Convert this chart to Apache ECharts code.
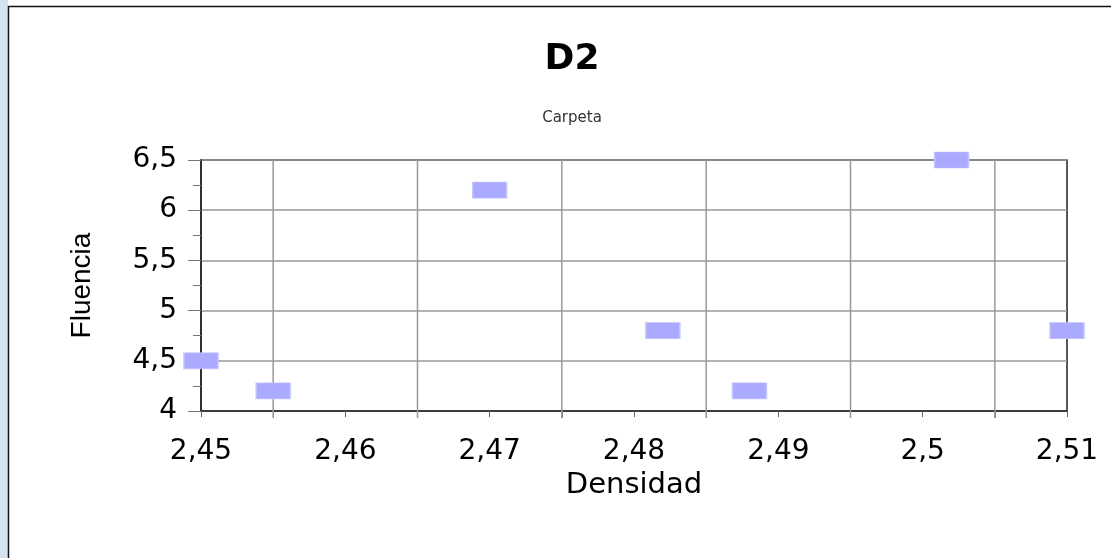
<!DOCTYPE html>
<html>
<head>
<meta charset="utf-8">
<title>D2</title>
<script src="https://cdn.jsdelivr.net/npm/echarts@6/dist/echarts.min.js"></script>
<style>
  html, body { margin: 0; padding: 0; background: #fff; }
  #chart { width: 1111px; height: 558px; }
</style>
</head>
<body>
<div id="chart"></div>
<script>
// puntos: densidad (x) y fluencia (y)
var densidad = [2.45, 2.455, 2.47, 2.482, 2.488, 2.502, 2.51]
var fluencia = [4.5, 4.2, 6.2, 4.8, 4.2, 6.5, 4.8]
// lineas verticales de la rejilla (entre etiquetas)
var gridX = [2.455, 2.465, 2.475, 2.485, 2.495, 2.505]

var wideFont = '"DejaVu Sans", Verdana, sans-serif'
var armFont = '"Liberation Sans", Arial, sans-serif'
var comma = function (v) {
  return String(+v.toFixed(3)).replace('.', ',')
}

var chart = echarts.init(document.getElementById('chart'))
chart.setOption({
  backgroundColor: '#fff',
  animation: false,
  graphic: [
    { type: 'rect', shape: { x: 0, y: 0, width: 8, height: 558 }, style: { fill: '#d5e3f1' }, silent: true },
    { type: 'line', shape: { x1: 8.5, y1: 6, x2: 8.5, y2: 558 }, style: { stroke: '#111', lineWidth: 1.5 }, silent: true },
    { type: 'line', shape: { x1: 8, y1: 6.5, x2: 1111, y2: 6.5 }, style: { stroke: '#111', lineWidth: 1.5 }, silent: true }
  ],
  title: {
    text: 'D2',
    subtext: 'Carpeta',
    left: 567,
    textAlign: 'center',
    top: 37,
    itemGap: 33,
    textStyle: { fontFamily: wideFont, fontSize: 36, fontWeight: 'bold', color: '#000' },
    subtextStyle: { fontFamily: wideFont, fontSize: 15, color: '#333' }
  },
  grid: {
    left: 201,
    right: 44,
    top: 160,
    bottom: 147,
    show: true,
    borderColor: '#222',
    borderWidth: 1.5
  },
  xAxis: {
    type: 'value',
    min: 2.45,
    max: 2.51,
    interval: 0.01,
    name: 'Densidad',
    nameLocation: 'middle',
    nameGap: 60,
    nameTextStyle: { fontFamily: wideFont, fontSize: 29, color: '#000' },
    axisLine: { lineStyle: { color: '#222', width: 1.5 } },
    axisTick: { length: 6, lineStyle: { color: '#666' } },
    minorTick: { show: true, splitNumber: 2, length: 7, lineStyle: { color: '#666' } },
    splitLine: { show: false },
    axisLabel: {
      margin: 27,
      fontFamily: wideFont,
      fontSize: 28,
      color: '#000',
      formatter: comma
    }
  },
  yAxis: {
    type: 'value',
    min: 4,
    max: 6.5,
    interval: 0.5,
    name: 'Fluencia',
    nameLocation: 'middle',
    nameGap: 105,
    nameTextStyle: { fontFamily: armFont, fontSize: 28, color: '#000' },
    axisLine: { show: true, lineStyle: { color: '#222', width: 1.5 } },
    axisTick: { show: true, length: 13, lineStyle: { color: '#777' } },
    minorTick: { show: true, splitNumber: 2, length: 8, lineStyle: { color: '#777' } },
    splitLine: { show: true, lineStyle: { color: '#999', width: 1.5 } },
    axisLabel: {
      margin: 24,
      fontFamily: wideFont,
      fontSize: 28,
      color: '#000',
      formatter: comma
    }
  },
  series: [{
    type: 'custom',
    silent: true,
    z: 1,
    data: gridX,
    renderItem: function (params, api) {
      var x = api.value(0)
      var p1 = api.coord([x, 6.5])
      var p2 = api.coord([x, 4])
      return {
        type: 'line',
        shape: { x1: p1[0], y1: p1[1], x2: p2[0], y2: p2[1] + 7 },
        style: { stroke: '#999', lineWidth: 1.5 }
      }
    }
  }, {
    type: 'scatter',
    symbol: 'rect',
    symbolSize: [34, 16],
    itemStyle: { color: '#aaaaff', borderColor: '#c4c4ff', borderWidth: 1, opacity: 1 },
    data: densidad.map(function (d, i) { return [d, fluencia[i]] }),
    z: 5
  }]
})
</script>
</body>
</html>
